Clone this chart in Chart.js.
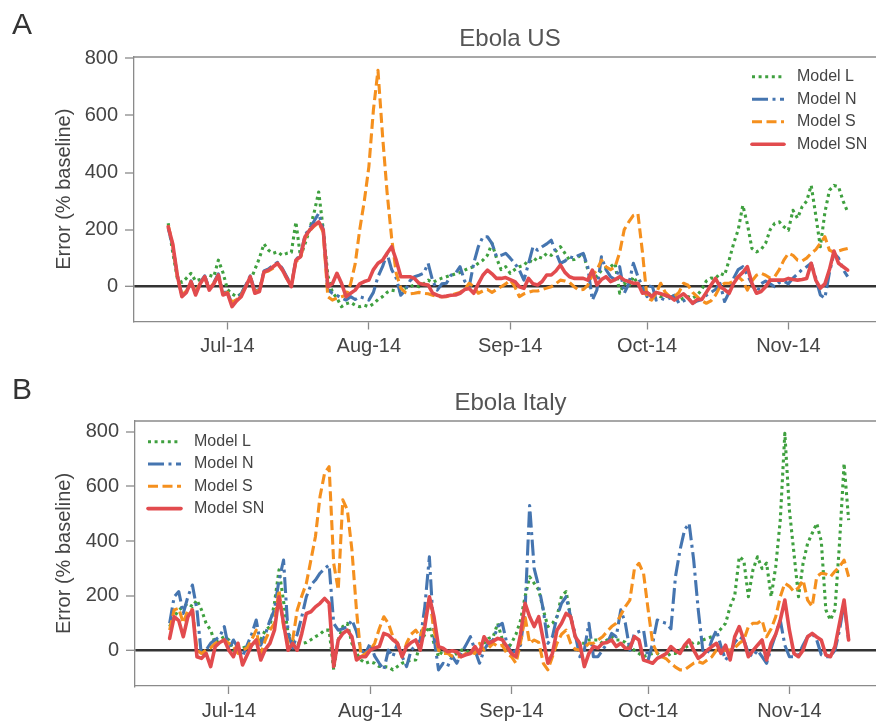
<!DOCTYPE html>
<html>
<head>
<meta charset="utf-8">
<title>Ebola forecast error</title>
<script src="https://cdn.jsdelivr.net/npm/chart.js@4.4.1/dist/chart.umd.min.js"></script>
<style>
  html, body { margin: 0; padding: 0; background: #fff; overflow: hidden; width: 876px; height: 724px; }
  .panel { position: absolute; left: 0; width: 890px; height: 362px; }
  #panelA { top: 0; }
  #panelB { top: 362px; }
  .tag { position: absolute; left: 12px; font: 30px "Liberation Sans", Arial, sans-serif; color: #333; line-height: 1; }
</style>
</head>
<body>
<div class="panel" id="panelA"><canvas id="chartA" width="890" height="362"></canvas></div>
<div class="panel" id="panelB"><canvas id="chartB" width="890" height="362"></canvas></div>
<div class="tag" style="top:9px">A</div>
<div class="tag" style="top:374px">B</div>
<script>
// Daily series start on 18 Jun 2014; x is days counted from 1 Jul 2014.
const firstDay = -13;
const monthTicks = [0, 31, 62, 92, 123];
const monthLabels = ['Jul-14', 'Aug-14', 'Sep-14', 'Oct-14', 'Nov-14'];
const errorTicks = [0, 200, 400, 600, 800];
const seriesLabels = ['Model L', 'Model N', 'Model S', 'Model SN'];

// Error (% of baseline), Ebola US
const usModelL = [
  222, 120, 30, 15, 30, 47, 20, 25, 28, 40,
  35, 93, 50, -10, -25, -35, -25, 5, 20, 60,
  100, 150, 128, 117, 122, 110, 117, 120, 227, 105,
  150, 200, 260, 332, 200, 40, -20, -40, -70, -60,
  -55, -65, -70, -65, -70, -60, -45, -35, -20, -12,
  -15, -12, -5, 0, 6, 0, 10, 23, 15, 23,
  30, 35, 40, 45, 50, 58, 65, 70, 82, 93,
  110, 152, 100, 60, 70, 47, 60, 70, 75, 93,
  85, 105, 100, 117, 110, 125, 140, 117, 93, 95,
  105, 117, 60, 47, 35, 58, 65, 70, 82, -23,
  12, 0, 35, 10, -10, -20, -30, -25, -35, -30,
  -40, -30, -50, -40, -35, -40, -30, -10, 20, 30,
  29, 47, 40, 93, 152, 200, 285, 220, 134, 122,
  130, 152, 200, 222, 227, 210, 198, 268, 240, 280,
  300, 355, 250, 140, 260, 338, 355, 350, 300, 262
];
const usModelN = [
  205, 140, 40, -30, -15, 20, -25, 15, 38, -5,
  15, 45, -20, -20, -60, -45, -25, 5, 38, -15,
  -10, 55, 62, 75, 85, 65, 35, 5, 95, 110,
  180, 205, 230, 257, 200, -10, -23, -30, -40, -47,
  -35, -45, -35, -40, -47, -20, 35, 70, 117, 60,
  30, -30, -12, 20, 35, 40, 47, 82, 20, -12,
  10, 12, 40, 47, 70, 20, 0, 82, 140, 175,
  175, 152, 105, 110, 117, 100, 82, 58, 23, 80,
  140, 128, 140, 150, 163, 120, 82, 90, 105, 100,
  110, 117, 70, -47, -12, 105, 60, 35, 25, 70,
  -23, 10, 82, 35, 0, -35, 12, -47, -40, -47,
  -40, -30, -58, -50, -40, -58, -50, -45, -30, -20,
  -10, 12, -52, -20, 30, 60, 70, 40, 10, -23,
  10, 20, 10, 0, 15, 20, 10, 30, 45, 60,
  70, 82, 30, -29, -40, 50, 117, 100, 60, 35
];
const usModelS = [
  215, 145, 35, -30, -15, 15, -20, 12, 30, -8,
  12, 38, -25, -20, -55, -45, -30, 0, 30, -18,
  -12, 50, 55, 65, 80, 58, 28, 5, 88, 100,
  170, 195, 212, 225, 190, -35, -47, -40, -35, -30,
  10, 80, 200, 300, 420, 620, 758, 530, 330, 170,
  47, -5, -20, -25, -23, -20, -23, -25, -30, -35,
  -35, -35, -30, -25, -20, -10, 12, 0, -23, -15,
  -10, -20, -10, 0, 10, 23, 0, -35, -25, -20,
  -15, -15, -10, -5, 0, 10, 23, 20, 15, 0,
  -12, -10, 5, 40, 58, 93, 70, 60, 70, 120,
  200, 227, 250, 256, 120, -40, -47, -23, 12, -20,
  -35, -35, -20, 12, 5, -20, -35, -50, -58, -50,
  -30, 0, 12, 12, 20, 35, 20, -12, 20, 40,
  47, 40, 30, 35, 60, 93, 117, 110, 93, 90,
  100, 117, 130, 152, 175, 128, 120, 125, 130, 134
];
const usModelSN = [
  210, 150, 40, -35, -20, 18, -29, 10, 35, -12,
  10, 41, -29, -23, -70, -50, -35, 0, 35, -23,
  -17, 52, 58, 70, 82, 60, 30, 0, 93, 105,
  175, 198, 215, 227, 198, 0, 10, 47, 12, -35,
  -23, -12, 10, 18, 23, 60, 82, 93, 117, 140,
  93, 35, 35, 35, 29, 12, 8, 6, -23, -30,
  -35, -33, -30, -29, -23, -10, -6, -23, 10, 40,
  58, 45, 29, 29, 32, 25, 18, 0, -6, 29,
  10, 6, 18, 41, 41, 55, 76, 50, 35, 29,
  29, 29, 23, 58, 6, 25, 35, 18, 25, 35,
  23, 18, 12, 12, -23, -20, -35, -20, -25, -30,
  -35, -47, -35, -25, -40, -58, -45, -45, -20, 5,
  29, 0, -10, -23, 12, 35, 50, 70, 12, -23,
  -17, 0, 23, 23, 23, 23, 29, 25, 23, 25,
  29, 82, 23, -5, 10, 60, 125, 82, 70, 58
];

// Error (% of baseline), Ebola Italy
const italyModelL = [
  88, 124, 149, 160, 173, 161, 185, 149, 100, 75,
  27, 40, 51, 39, 2, -10, 10, 15, 20, 27,
  40, 75, 88, 173, 295, 180, 63, 39, 27, 27,
  30, 40, 51, 60, 75, 75, -70, 39, 88, 100,
  27, -10, -34, -46, -40, -46, -58, -58, -60, -70,
  -58, -46, -40, -34, -34, 27, 60, 88, 27, -22,
  2, -10, -22, -10, 2, 2, -10, 2, -10, 27,
  45, 51, 100, 40, 2, 27, 60, 110, 197, 270,
  246, 222, 149, 88, 100, 124, 200, 216, 124, 51,
  27, 27, 39, 39, 39, 27, 39, 51, 39, 39,
  30, 10, 2, -10, -22, -15, -10, -10, -22, -22,
  -10, -10, 2, 10, 20, 30, 27, 39, 45, 51,
  63, 80, 100, 161, 200, 343, 330, 197, 295, 343,
  300, 320, 197, 307, 477, 794, 514, 356, 197, 319,
  392, 429, 465, 400, 149, 112, 150, 392, 684, 477
];
const italyModelN = [
  100, 197, 216, 136, 197, 240, 149, -22, 2, 27,
  40, 51, 88, 5, 39, 10, -22, 20, 60, 112,
  20, 60, 110, 149, 258, 331, 63, 10, 60, 124,
  197, 240, 258, 283, 300, 313, 100, 75, 80, 88,
  112, 70, 2, -10, 27, -20, -46, -70, 2, -22,
  27, -20, -58, 2, 20, 39, 161, 343, 51, -70,
  -46, -58, -20, -46, -10, 20, 51, 2, -46, 2,
  30, 39, 88, 100, 27, -10, 2, 20, 149, 530,
  300, 234, 149, 27, 51, 124, 173, 197, 124, 60,
  -22, 2, 100, -22, -22, 2, 27, 63, 51, 149,
  100, 2, 63, 70, 75, -34, 27, 112, 105, 100,
  80, 270, 368, 441, 465, 331, 149, 2, -10, 39,
  75, 15, -34, -10, 30, 51, 40, -10, -22, 2,
  -22, -46, 10, 60, 112, 20, -22, -22, -15, 20,
  51, 63, 39, -15, -22, -22, 2, 75, 173, 39
];
const italyModelS = [
  75, 149, 155, 100, 149, 149, 2, -10, 2, 10,
  27, 35, 39, 27, 15, -10, 2, 10, 40, 75,
  -10, 39, 75, 100, 222, 88, 27, 39, 149, 200,
  246, 331, 417, 563, 648, 672, 319, 222, 551, 514,
  368, 149, -22, -10, 2, 27, 80, 124, 100, 51,
  27, -22, 27, 60, 75, 51, 100, 197, 75, 2,
  -10, -10, -20, -22, -22, -10, -5, -10, 27, 2,
  10, 27, 15, 20, -10, -22, -46, 30, 124, 27,
  39, 30, -46, -70, -22, 27, 60, 75, 27, 5,
  2, 10, 27, 27, 39, 51, 70, 88, 100, 130,
  161, 185, 300, 319, 282, 150, 27, -10, -22, -30,
  -46, -60, -70, -70, -58, -46, -40, -46, -34, -22,
  2, 2, 2, 2, 10, 27, 39, 88, 100, 100,
  112, 51, 80, 124, 197, 246, 235, 216, 230, 258,
  185, 161, 270, 283, 280, 270, 290, 307, 331, 270
];
const italyModelSN = [
  45, 124, 110, 51, 124, 149, -22, -28, -10, -58,
  15, 30, 39, 2, -22, 27, -52, -16, 20, 39,
  -34, 5, 27, 75, 197, 100, 2, 27, 2, 63,
  136, 142, 160, 173, 191, 173, -58, 39, 63, 75,
  51, -34, -22, -22, 2, 10, 15, 63, 57, 40,
  27, -22, 15, 30, 39, 2, 88, 197, 124, 15,
  9, -4, 0, -4, -22, -15, -10, 15, -10, 51,
  27, 35, 45, 40, 15, -10, -22, 60, 173, 124,
  88, 124, 39, -46, -10, 75, 100, 136, 124, 51,
  27, -58, -10, 15, 10, 27, 30, 39, 15, 27,
  9, 9, 51, 39, -34, -40, -46, -28, -20, -10,
  15, 0, -10, 20, 39, 2, -28, -16, 2, 15,
  27, -10, 20, -34, 51, 88, 39, -22, 0, 20,
  39, -34, 27, 60, 112, 185, 75, -10, -22, 2,
  51, 63, 50, 39, -16, -22, 15, 100, 185, 39
];

const FONT = '"Liberation Sans", Arial, Helvetica, sans-serif';

const lineStyles = [
  { color: '#3fa03f', dash: [3, 3.6], width: 3.1, cap: 'butt', order: 4 },
  { color: '#4575b0', dash: [16, 4.5, 3, 4.5], width: 3.1, cap: 'butt', order: 3 },
  { color: '#f5901e', dash: [10, 4.5], width: 3.1, cap: 'butt', order: 2 },
  { color: '#e24b4e', dash: [], width: 3.6, cap: 'round', order: 1 }
];

function buildDatasets(seriesList) {
  return seriesList.map((values, i) => ({
    label: seriesLabels[i],
    data: values.map((v, k) => ({ x: firstDay + k, y: v })),
    borderColor: lineStyles[i].color,
    borderWidth: lineStyles[i].width,
    borderDash: lineStyles[i].dash,
    borderCapStyle: lineStyles[i].cap,
    borderJoinStyle: 'round',
    pointRadius: 0,
    tension: 0,
    fill: false,
    order: lineStyles[i].order
  }));
}

// Top frame line of the plotting box
const frameTop = {
  id: 'frameTop',
  afterDraw(chart) {
    const { ctx, chartArea } = chart;
    ctx.save();
    ctx.strokeStyle = '#8a8a8a';
    ctx.lineWidth = 1.3;
    ctx.beginPath();
    ctx.moveTo(chartArea.left, chartArea.top);
    ctx.lineTo(chartArea.right, chartArea.top);
    ctx.stroke();
    ctx.restore();
  }
};

// Legend drawn as short line samples carrying each dataset's own dash pattern
const lineLegend = {
  id: 'lineLegend',
  afterDraw(chart, args, opts) {
    const ctx = chart.ctx;
    ctx.save();
    chart.data.datasets.forEach((ds, i) => {
      const y = opts.y + i * opts.step;
      ctx.beginPath();
      ctx.strokeStyle = ds.borderColor;
      ctx.lineWidth = ds.borderWidth;
      ctx.lineCap = ds.borderCapStyle;
      ctx.setLineDash(ds.borderDash);
      ctx.moveTo(opts.x, y);
      ctx.lineTo(opts.x + opts.length, y);
      ctx.stroke();
      ctx.setLineDash([]);
      ctx.fillStyle = '#444';
      ctx.font = '16px ' + FONT;
      ctx.textBaseline = 'middle';
      ctx.textAlign = 'left';
      ctx.fillText(ds.label, opts.x + opts.length + opts.gap, y);
    });
    ctx.restore();
  }
};

function makePanel(canvasId, cfg) {
  return new Chart(document.getElementById(canvasId), {
    type: 'line',
    data: { datasets: buildDatasets(cfg.series) },
    plugins: [frameTop, lineLegend],
    options: {
      responsive: false,
      animation: false,
      events: [],
      layout: { padding: { left: 0, right: 4, top: cfg.padTop, bottom: 0 } },
      plugins: {
        legend: { display: false },
        tooltip: { enabled: false },
        title: {
          display: true,
          text: cfg.title,
          fullSize: false,
          color: '#555',
          font: { family: FONT, size: 24, weight: 'normal', lineHeight: 1.2 },
          padding: { top: 0, bottom: cfg.titleGap }
        },
        lineLegend: cfg.legend
      },
      scales: {
        x: {
          type: 'linear',
          min: cfg.xMin,
          max: cfg.xMax,
          afterBuildTicks: (scale) => { scale.ticks = monthTicks.map(v => ({ value: v })); },
          afterFit: (scale) => { scale.height = cfg.xHeight; },
          ticks: {
            autoSkip: false,
            maxRotation: 0,
            padding: 5,
            color: '#444',
            font: { family: FONT, size: 20 },
            callback: (value) => monthLabels[monthTicks.indexOf(value)]
          },
          grid: { drawOnChartArea: false, tickLength: 8, tickColor: '#8a8a8a', tickWidth: 1.3 },
          border: { display: true, color: '#8a8a8a', width: 1.3 }
        },
        y: {
          type: 'linear',
          min: cfg.yMin,
          max: cfg.yMax,
          afterBuildTicks: (scale) => { scale.ticks = errorTicks.map(v => ({ value: v })); },
          afterFit: (scale) => { scale.width = cfg.yWidth; },
          ticks: {
            padding: 7,
            color: '#444',
            font: { family: FONT, size: 20 }
          },
          grid: {
            color: (c) => (c.tick && c.tick.value === 0 ? '#333' : 'rgba(0,0,0,0)'),
            lineWidth: (c) => (c.tick && c.tick.value === 0 ? 2.6 : 0),
            tickLength: 9,
            tickColor: '#8a8a8a',
            tickWidth: 1.3
          },
          border: { display: true, color: '#8a8a8a', width: 1.3 },
          title: {
            display: true,
            text: 'Error (% baseline)',
            color: '#444',
            font: { family: FONT, size: 20, lineHeight: 1.2 },
            padding: { top: 52, bottom: 0 }
          }
        }
      }
    }
  });
}

makePanel('chartA', {
  title: 'Ebola US',
  series: [usModelL, usModelN, usModelS, usModelSN],
  padTop: 25,
  titleGap: 3.2,
  xMin: -20.5, xMax: 144.4, xHeight: 40.5,
  yMin: -122, yMax: 805, yWidth: 134,
  legend: { x: 752, y: 76.7, step: 22.5, length: 32, gap: 13 }
});

makePanel('chartB', {
  title: 'Ebola Italy',
  series: [italyModelL, italyModelN, italyModelS, italyModelSN],
  padTop: 26.6,
  titleGap: 3.6,
  xMin: -20.6, xMax: 144.2, xHeight: 38,
  yMin: -129, yMax: 839, yWidth: 135,
  legend: { x: 148, y: 79.7, step: 22.3, length: 33, gap: 13 }
});
</script>
</body>
</html>
